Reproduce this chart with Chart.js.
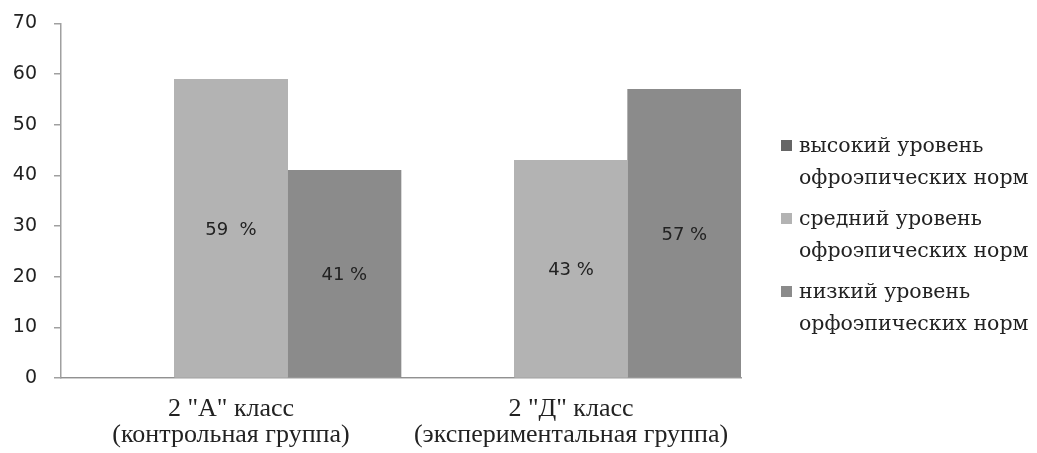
<!DOCTYPE html>
<html>
<head>
<meta charset="utf-8">
<script src="https://cdn.jsdelivr.net/npm/chart.js@4.4.1/dist/chart.umd.min.js"></script>
<style>
  html, body { margin: 0; padding: 0; background: #fff; }
  #wrap { position: relative; width: 1037px; height: 453px; }
  #legend { position: absolute; left: 781px; top: 129px; font-family: "DejaVu Serif", serif; font-size: 20.5px; color: #222; }
  .item { position: absolute; left: 0; white-space: nowrap; }
  .sw { position: absolute; left: 0; width: 11px; height: 11px; }
  .txt { position: absolute; left: 18px; line-height: 32px; }
</style>
</head>
<body>
<div id="wrap">
  <canvas id="c" width="1037" height="453"></canvas>
  <div id="legend"></div>
</div>
<script>
const categories = [['2 "А" класс', '(контрольная группа)'], ['2 "Д" класс', '(экспериментальная группа)']];
const seriesNames = [['высокий уровень', 'офроэпических норм'], ['средний уровень', 'офроэпических норм'], ['низкий уровень', 'орфоэпических норм']];
const highValues = [0, 0];
const midValues = [59, 43];
const lowValues = [41, 57];
const highLabels = ['', ''];
const midLabels = ['59  %', '43 %'];
const lowLabels = ['41 %', '57 %'];
const yTicks = [0, 10, 20, 30, 40, 50, 60, 70];

const colors = ['#666666', '#b3b3b3', '#8b8b8b'];
const valueLabels = [highLabels, midLabels, lowLabels];

const centerLabels = {
  id: 'centerLabels',
  afterDatasetsDraw(chart) {
    const ctx = chart.ctx;
    ctx.save();
    ctx.font = '18px "DejaVu Sans", sans-serif';
    ctx.fillStyle = '#222';
    ctx.textAlign = 'center';
    ctx.textBaseline = 'middle';
    chart.data.datasets.forEach((ds, i) => {
      const meta = chart.getDatasetMeta(i);
      meta.data.forEach((el, j) => {
        const t = valueLabels[i][j];
        if (!t) return;
        ctx.fillText(t, el.x, (el.y + el.base) / 2 + 2);
      });
    });
    ctx.restore();
  }
};

const chart = new Chart(document.getElementById('c'), {
  type: 'bar',
  data: {
    labels: categories,
    datasets: [
      { label: seriesNames[0].join(' '), data: highValues, backgroundColor: colors[0] },
      { label: seriesNames[1].join(' '), data: midValues, backgroundColor: colors[1] },
      { label: seriesNames[2].join(' '), data: lowValues, backgroundColor: colors[2] }
    ]
  },
  options: {
    responsive: false,
    animation: false,
    devicePixelRatio: 1,
    layout: { padding: { top: 23.5, right: 296, bottom: 0, left: 0 } },
    datasets: { bar: { barPercentage: 1, categoryPercentage: 1, borderWidth: 0 } },
    plugins: { legend: { display: false }, tooltip: { enabled: false } },
    scales: {
      x: {
        grid: { display: false, drawTicks: false },
        border: { display: true, color: '#a0a0a0', width: 1.5 },
        ticks: {
          color: '#222',
          padding: 18,
          maxRotation: 0,
          autoSkip: false,
          font: { family: '"Liberation Serif", serif', size: 26, lineHeight: '26px' }
        },
        afterFit(s) { s.height = 75; s.paddingLeft = 0; s.paddingRight = 0; }
      },
      y: {
        min: 0, max: 70,
        afterBuildTicks(s) { s.ticks = yTicks.map(v => ({ value: v })); },
        grid: { display: true, drawOnChartArea: false, tickLength: 7, color: '#a0a0a0', lineWidth: 1.5 },
        border: { display: true, color: '#a0a0a0', width: 1.5 },
        ticks: {
          color: '#222',
          padding: 17,
          font: { family: '"DejaVu Sans", sans-serif', size: 19 }
        },
        afterFit(s) { s.width = 61; s.paddingTop = 0; s.paddingBottom = 0; }
      }
    }
  },
  plugins: [centerLabels]
});

// HTML legend built from chart datasets
const legend = document.getElementById('legend');
const itemTops = [0, 73, 146];
chart.data.datasets.forEach((ds, i) => {
  const item = document.createElement('div');
  item.className = 'item';
  item.style.top = itemTops[i] + 'px';
  const sw = document.createElement('div');
  sw.className = 'sw';
  sw.style.top = '11px';
  sw.style.background = ds.backgroundColor;
  const txt = document.createElement('div');
  txt.className = 'txt';
  txt.style.top = '0px';
  txt.innerHTML = seriesNames[i].join('<br>');
  item.appendChild(sw);
  item.appendChild(txt);
  legend.appendChild(item);
});
</script>
</body>
</html>
